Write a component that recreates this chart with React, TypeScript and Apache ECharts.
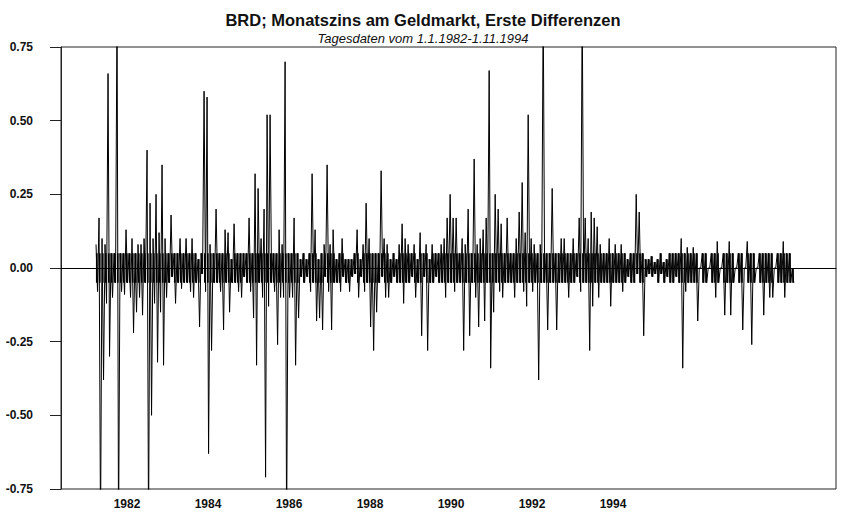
import React, { useEffect, useRef } from "react";
import * as echarts from "echarts";

// Chart texts
const TITLE = "BRD; Monatszins am Geldmarkt, Erste Differenzen";
const SUBTITLE = "Tagesdaten vom 1.1.1982-1.11.1994";

// X axis tick labels (as printed on the original axis)
const YEAR_LABELS = [1982, 1984, 1986, 1988, 1990, 1992, 1994];
// Y axis ticks
const Y_MIN = -0.75;
const Y_MAX = 0.75;
const Y_STEP = 0.25;

// Axis extent, in the axis' own (label) units
const X_MIN = 1980.37;
const X_MAX = 1999.506;

// Sampling of the series: first observation and spacing on the axis scale
const X_START = 1981.235;
const X_STEP = 0.0741;

// Day-to-day noise band (typical size of the dense daily moves)
const BAND = 0.05;

// Largest rise within each sampling interval (first differences)
const HIGH = [
  0.08, 0.17, 0.10, 0.08, 0.66, 0.05, 0.05, 0.9, 0.05, 0.05,
  0.13, 0.05, 0.10, 0.05, 0.08, 0.08, 0.10, 0.40, 0.22, 0.10,
  0.25, 0.12, 0.35, 0.10, 0.05, 0.18, 0.05, 0.05, 0.10, 0.05,
  0.10, 0.05, 0.10, 0.05, 0.03, 0.05, 0.60, 0.58, 0.08, 0.05,
  0.20, 0.05, 0.05, 0.13, 0.12, 0.03, 0.15, 0.05, 0.05, 0.05,
  0.05, 0.17, 0.05, 0.32, 0.27, 0.10, 0.20, 0.52, 0.52, 0.05,
  0.05, 0.13, 0.08, 0.70, 0.05, 0.05, 0.17, 0.05, 0.03, 0.05,
  0.03, 0.05, 0.32, 0.13, 0.03, 0.05, 0.08, 0.35, 0.08, 0.13,
  0.03, 0.05, 0.10, 0.03, 0.03, 0.03, 0.05, 0.13, 0.03, 0.08,
  0.22, 0.10, 0.05, 0.05, 0.05, 0.33, 0.10, 0.08, 0.03, 0.05,
  0.03, 0.08, 0.15, 0.10, 0.08, 0.05, 0.08, 0.03, 0.12, 0.05,
  0.08, 0.03, 0.08, 0.05, 0.05, 0.08, 0.10, 0.17, 0.25, 0.17,
  0.17, 0.05, 0.10, 0.08, 0.20, 0.05, 0.37, 0.08, 0.10, 0.13,
  0.17, 0.67, 0.05, 0.25, 0.20, 0.15, 0.05, 0.17, 0.05, 0.05,
  0.10, 0.19, 0.29, 0.12, 0.52, 0.10, 0.08, 0.05, 0.08, 0.9,
  0.05, 0.05, 0.27, 0.05, 0.05, 0.10, 0.10, 0.05, 0.05, 0.10,
  0.05, 0.17, 0.9, 0.17, 0.10, 0.19, 0.17, 0.14, 0.08, 0.05,
  0.05, 0.10, 0.05, 0.08, 0.05, 0.08, 0.05, 0.03, 0.05, 0.05,
  0.25, 0.19, 0.05, 0.03, 0.03, 0.04, 0.02, 0.03, 0.05, 0.02,
  0.03, 0.05, 0.05, 0.05, 0.05, 0.10, 0.05, 0.07, 0.05, 0.07,
  0.05, 0, 0.05, 0.05, 0, 0.05, 0.05, 0.09, 0, 0.05,
  0.05, 0.09, 0.05, 0, 0.05, 0.05, 0, 0.09, 0.05, 0.05,
  0, 0.05, 0.05, 0.05, 0.05, 0.05, 0, 0.05, 0.05, 0.09,
  0.05, 0.05, 0,
];

// Largest fall within each sampling interval
const LOW = [
  -0.08, -0.9, -0.38, -0.12, -0.30, -0.10, -0.05, -0.9, -0.08, -0.09,
  -0.05, -0.10, -0.22, -0.15, -0.10, -0.16, -0.05, -0.9, -0.50, -0.12,
  -0.32, -0.15, -0.33, -0.10, -0.05, -0.03, -0.12, -0.05, -0.07, -0.05,
  -0.05, -0.08, -0.10, -0.05, -0.20, -0.02, -0.08, -0.63, -0.28, -0.05,
  -0.05, -0.08, -0.21, -0.05, -0.15, -0.05, -0.05, -0.08, -0.10, -0.03,
  -0.05, -0.08, -0.17, -0.33, -0.05, -0.10, -0.71, -0.13, -0.05, -0.08,
  -0.26, -0.10, -0.10, -0.9, -0.10, -0.10, -0.33, -0.17, -0.03, -0.05,
  -0.03, -0.08, -0.05, -0.18, -0.17, -0.21, -0.03, -0.08, -0.21, -0.05,
  -0.05, -0.08, -0.03, -0.05, -0.08, -0.03, -0.02, -0.10, -0.03, -0.08,
  -0.05, -0.20, -0.28, -0.15, -0.05, -0.03, -0.10, -0.10, -0.05, -0.03,
  -0.05, -0.05, -0.12, -0.05, -0.05, -0.03, -0.10, -0.05, -0.23, -0.03,
  -0.28, -0.05, -0.05, -0.03, -0.05, -0.05, -0.10, -0.05, -0.05, -0.08,
  -0.05, -0.05, -0.28, -0.05, -0.23, -0.05, -0.10, -0.20, -0.05, -0.18,
  -0.05, -0.34, -0.15, -0.05, -0.08, -0.10, -0.05, -0.05, -0.05, -0.10,
  -0.05, -0.05, -0.08, -0.13, -0.05, -0.08, -0.05, -0.38, -0.05, -0.05,
  -0.21, -0.05, -0.05, -0.21, -0.05, -0.05, -0.05, -0.10, -0.05, -0.05,
  -0.03, -0.08, -0.05, -0.05, -0.28, -0.13, -0.05, -0.10, -0.05, -0.05,
  -0.05, -0.13, -0.05, -0.05, -0.05, -0.08, -0.05, -0.03, -0.05, -0.05,
  -0.02, -0.05, -0.23, -0.03, -0.02, -0.03, -0.02, -0.05, -0.02, -0.05,
  -0.03, -0.05, -0.05, -0.03, -0.05, -0.34, -0.08, -0.05, -0.05, -0.05,
  -0.18, 0, -0.05, -0.05, 0, -0.05, -0.10, -0.05, 0, -0.16,
  -0.05, -0.16, -0.05, 0, -0.05, -0.21, 0, -0.05, -0.26, -0.05,
  0, -0.05, -0.16, -0.05, -0.10, -0.10, 0, -0.05, -0.05, -0.10,
  -0.05, -0.05, -0.05,
];

const LABEL_FONT = "'Liberation Sans', Arial, sans-serif";

export default function App() {
  const ref = useRef<HTMLDivElement>(null);

  useEffect(() => {
    document.body.style.margin = "0";
    if (!ref.current) return;
    const chart = echarts.init(ref.current, null, { renderer: "svg" });

    const trace: [number, number][] = [];
    const bandUp: [number, number][] = [];
    const bandDown: [number, number][] = [];
    for (let i = 0; i < HIGH.length; i++) {
      const x = X_START + i * X_STEP;
      trace.push([x, HIGH[i]]);
      trace.push([x + X_STEP / 2, LOW[i]]);
      bandUp.push([x + X_STEP / 4, Math.min(HIGH[i], BAND)]);
      bandDown.push([x + X_STEP / 4, Math.max(LOW[i], -BAND)]);
    }

    chart.setOption({
      animation: false,
      backgroundColor: "#ffffff",
      title: [
        {
          text: TITLE,
          left: "center",
          top: 6,
          textStyle: {
            fontFamily: LABEL_FONT,
            fontSize: 16.5,
            fontWeight: "bold",
            color: "#111",
          },
        },
        {
          text: SUBTITLE,
          left: "center",
          top: 27,
          textStyle: {
            fontFamily: LABEL_FONT,
            fontSize: 13,
            fontWeight: "normal",
            fontStyle: "italic",
            color: "#111",
          },
        },
      ],
      grid: {
        left: 61,
        right: 10,
        top: 47,
        bottom: 30,
        show: true,
        borderColor: "#222",
        borderWidth: 1,
        backgroundColor: "transparent",
      },
      xAxis: {
        type: "value",
        min: X_MIN,
        max: X_MAX,
        axisLine: { show: true, lineStyle: { color: "#222", width: 1 } },
        axisTick: { show: false },
        splitLine: { show: false },
        axisLabel: {
          customValues: YEAR_LABELS,
          margin: 9,
          color: "#111",
          fontFamily: LABEL_FONT,
          fontSize: 12,
          fontWeight: "bold",
          formatter: (v: number) => String(Math.round(v)),
        },
      },
      yAxis: {
        type: "value",
        min: Y_MIN,
        max: Y_MAX,
        interval: Y_STEP,
        axisLine: { show: true, lineStyle: { color: "#222", width: 1 } },
        axisTick: { show: true, length: 11, lineStyle: { color: "#222" } },
        splitLine: { show: false },
        axisLabel: {
          margin: 28,
          color: "#111",
          fontFamily: LABEL_FONT,
          fontSize: 12,
          fontWeight: "bold",
          formatter: (v: number) => v.toFixed(2),
        },
      },
      series: [
        {
          type: "bar",
          data: bandUp,
          barWidth: 1.7,
          barGap: "-100%",
          silent: true,
          itemStyle: { color: "#000" },
        },
        {
          type: "bar",
          data: bandDown,
          barWidth: 1.7,
          barGap: "-100%",
          silent: true,
          itemStyle: { color: "#000" },
        },
        {
          type: "line",
          data: trace,
          showSymbol: false,
          clip: true,
          silent: true,
          lineStyle: { color: "#000", width: 1 },
          markLine: {
            silent: true,
            symbol: "none",
            label: { show: false },
            lineStyle: { color: "#000", width: 1, type: "solid" },
            data: [{ yAxis: 0 }],
          },
        },
      ],
    });

    return () => chart.dispose();
  }, []);

  return <div ref={ref} style={{ width: 846, height: 519 }} />;
}
